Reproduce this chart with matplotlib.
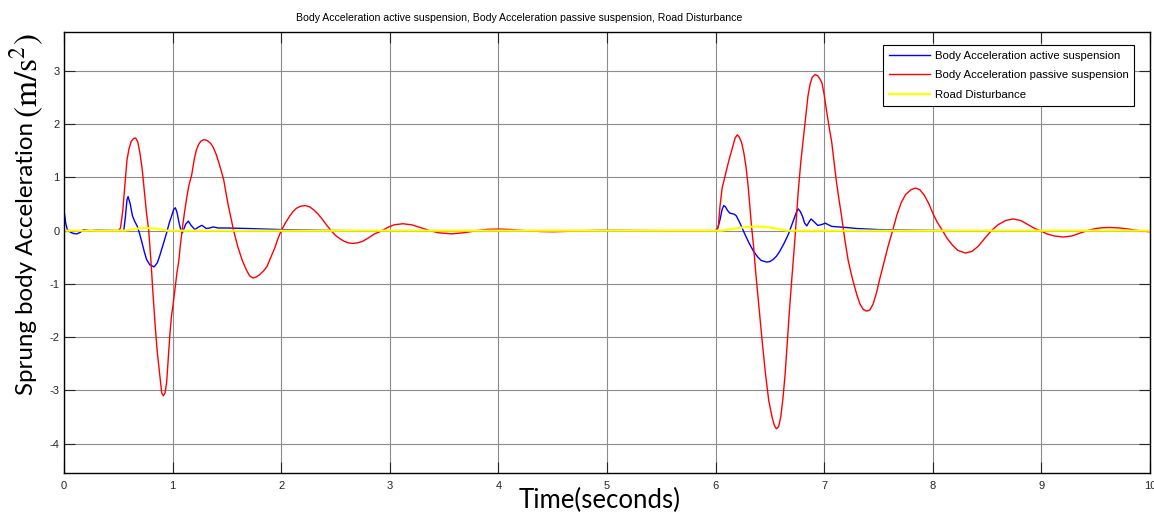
import matplotlib
matplotlib.use("Agg")
import matplotlib.pyplot as plt

# 時間 [s] と車体加速度 [m/s^2]（パッシブサスペンション）
t_passive = [0, 0.50, 0.52, 0.54, 0.56, 0.58, 0.60, 0.62, 0.64, 0.66, 0.68, 0.70,
             0.72, 0.74, 0.76, 0.78, 0.80, 0.82, 0.84, 0.86, 0.88, 0.90, 0.915,
             0.93, 0.945, 0.96, 0.976, 0.99, 1.007, 1.025, 1.04, 1.055, 1.07, 1.09,
             1.11, 1.13, 1.15, 1.176, 1.20, 1.22, 1.24, 1.26, 1.29, 1.32, 1.35,
             1.375, 1.40, 1.43, 1.47, 1.51, 1.56, 1.60, 1.64, 1.68, 1.71, 1.74,
             1.77, 1.80, 1.84, 1.87, 1.90, 1.94, 1.97, 2.00, 2.04, 2.08, 2.11,
             2.14, 2.18, 2.22, 2.26, 2.30, 2.34, 2.38, 2.42, 2.46, 2.50, 2.54,
             2.58, 2.62, 2.66, 2.70, 2.75, 2.80, 2.86, 2.93, 2.98, 3.04, 3.12,
             3.20, 3.28, 3.37, 3.45, 3.57, 3.68, 3.80, 3.90, 4.01, 4.12, 4.25,
             4.38, 4.50, 4.65, 4.80, 4.95, 5.15, 5.50, 6.00,
             6.01, 6.025, 6.04, 6.06, 6.09, 6.12, 6.15, 6.18, 6.20, 6.22, 6.24,
             6.26, 6.28, 6.30, 6.33, 6.35, 6.37, 6.40, 6.43, 6.46, 6.49, 6.52,
             6.54, 6.56, 6.58, 6.60, 6.62, 6.64, 6.66, 6.68, 6.70, 6.73, 6.76,
             6.785, 6.81, 6.83, 6.85, 6.87, 6.89, 6.915, 6.94, 6.96, 6.98, 7.00,
             7.02, 7.045, 7.07, 7.09, 7.11, 7.135, 7.16, 7.19, 7.22, 7.25, 7.27,
             7.30, 7.33, 7.36, 7.39, 7.42, 7.45, 7.48, 7.51, 7.55, 7.59, 7.63,
             7.67, 7.71, 7.75, 7.80, 7.84, 7.88, 7.92, 7.96, 8.00, 8.04, 8.09,
             8.13, 8.18, 8.23, 8.30, 8.36, 8.42, 8.48, 8.54, 8.60, 8.67, 8.74,
             8.81, 8.88, 8.94, 8.99, 9.05, 9.12, 9.20, 9.28, 9.35, 9.42, 9.50,
             9.56, 9.63, 9.72, 9.80, 9.90, 10.0]
acc_passive = [0, 0, 0.05, 0.35, 0.85, 1.33, 1.55, 1.68, 1.73, 1.74, 1.66, 1.45,
               1.15, 0.75, 0.33, 0.0, -0.55, -1.20, -1.80, -2.30, -2.67, -3.05, -3.10,
               -3.05, -2.85, -2.40, -1.92, -1.60, -1.35, -1.05, -0.79, -0.60, -0.30, 0.05,
               0.35, 0.62, 0.85, 1.05, 1.35, 1.52, 1.62, 1.68, 1.71, 1.69, 1.64,
               1.56, 1.44, 1.25, 0.96, 0.50, 0.02, -0.30, -0.55, -0.74, -0.85, -0.89,
               -0.87, -0.83, -0.75, -0.67, -0.52, -0.33, -0.15, 0.0, 0.15, 0.28, 0.36,
               0.42, 0.46, 0.47, 0.45, 0.39, 0.31, 0.21, 0.10, 0.0, -0.09, -0.15,
               -0.20, -0.23, -0.24, -0.23, -0.20, -0.14, -0.06, 0.0, 0.06, 0.11, 0.13,
               0.11, 0.06, 0.0, -0.04, -0.06, -0.04, 0.0, 0.025, 0.03, 0.02, 0.0,
               -0.015, -0.02, -0.012, 0.0, 0.008, 0.005, 0.0, 0.0,
               0.02, 0.08, 0.45, 0.80, 1.05, 1.30, 1.52, 1.74, 1.80, 1.75, 1.65,
               1.46, 1.20, 0.83, 0.10, -0.30, -0.80, -1.45, -2.10, -2.70, -3.20, -3.50,
               -3.65, -3.72, -3.68, -3.50, -3.15, -2.70, -2.10, -1.50, -0.95, -0.17, 0.71,
               1.30, 1.77, 2.15, 2.52, 2.75, 2.88, 2.93, 2.91, 2.85, 2.77, 2.55,
               2.27, 1.95, 1.65, 1.30, 0.96, 0.60, 0.27, -0.17, -0.55, -0.82, -0.98,
               -1.20, -1.38, -1.48, -1.51, -1.49, -1.38, -1.18, -0.92, -0.60, -0.28, 0.0,
               0.30, 0.53, 0.68, 0.77, 0.80, 0.77, 0.67, 0.52, 0.33, 0.16, 0.0,
               -0.14, -0.27, -0.37, -0.42, -0.39, -0.29, -0.14, 0.0, 0.11, 0.19, 0.22,
               0.19, 0.11, 0.04, 0.0, -0.06, -0.10, -0.12, -0.10, -0.05, 0.0, 0.04,
               0.055, 0.06, 0.05, 0.03, 0.0, -0.02]

# 車体加速度（アクティブサスペンション）
t_active = [0, 0.015, 0.03, 0.06, 0.09, 0.12, 0.15, 0.18, 0.21, 0.24, 0.30, 0.55,
            0.565, 0.58, 0.59, 0.61, 0.63, 0.65, 0.675, 0.695, 0.715, 0.74, 0.76,
            0.79, 0.83, 0.86, 0.88, 0.91, 0.945, 0.97, 0.99, 1.01, 1.025, 1.04,
            1.06, 1.075, 1.09, 1.12, 1.145, 1.17, 1.205, 1.24, 1.27, 1.31, 1.34,
            1.375, 1.42, 1.50, 1.70, 2.00, 2.30, 2.60, 6.00,
            6.02, 6.04, 6.06, 6.075, 6.09, 6.11, 6.13, 6.15, 6.17, 6.19, 6.225,
            6.27, 6.31, 6.35, 6.39, 6.42, 6.47, 6.50, 6.53, 6.56, 6.59, 6.63,
            6.67, 6.70, 6.72, 6.745, 6.76, 6.78, 6.80, 6.82, 6.84, 6.865, 6.88,
            6.91, 6.94, 6.97, 7.01, 7.04, 7.07, 7.20, 7.30, 7.50, 7.80, 8.20, 10.0]
acc_active = [0.39, 0.15, 0.02, -0.03, -0.055, -0.06, -0.03, 0.02, 0.01, 0.0, 0.01, 0.0,
              0.25, 0.58, 0.64, 0.50, 0.28, 0.18, 0.08, -0.05, -0.20, -0.40, -0.54,
              -0.64, -0.68, -0.60, -0.48, -0.28, -0.04, 0.15, 0.27, 0.40, 0.43, 0.35,
              0.14, 0.02, -0.04, 0.12, 0.18, 0.10, 0.02, 0.07, 0.10, 0.04, 0.05,
              0.07, 0.05, 0.05, 0.04, 0.02, 0.01, 0.0, 0.0,
              0.05, 0.20, 0.40, 0.47, 0.45, 0.38, 0.33, 0.32, 0.31, 0.28, 0.14,
              -0.07, -0.24, -0.39, -0.50, -0.56, -0.59, -0.58, -0.54, -0.48, -0.39, -0.24,
              -0.07, 0.10, 0.21, 0.35, 0.41, 0.36, 0.27, 0.14, 0.09, 0.18, 0.22,
              0.16, 0.10, 0.11, 0.14, 0.11, 0.08, 0.06, 0.04, 0.02, 0.01, 0.0, 0.0]

# 路面外乱
t_road = [0, 0.55, 0.62, 0.70, 0.76, 0.84, 0.90, 0.95, 6.05, 6.15, 6.25, 6.38,
          6.50, 6.58, 6.66, 10.0]
road = [0, 0, 0.02, 0.045, 0.05, 0.04, 0.02, 0, 0, 0.03, 0.06, 0.08,
        0.06, 0.03, 0, 0]

x_ticks = list(range(0, 11))
y_ticks = list(range(-4, 4))

plt.rcParams['mathtext.fontset'] = 'stix'
plt.rcParams['axes.unicode_minus'] = False
sans = ['Liberation Sans', 'DejaVu Sans']

fig = plt.figure(figsize=(11.54, 5.14), dpi=100)
ax = fig.add_axes([64 / 1154, 1 - 473 / 514, 1086 / 1154, 441 / 514])

ax.plot(t_active, acc_active, color='#0000ff', lw=1.0,
        label='Body Acceleration active suspension')
ax.plot(t_passive, acc_passive, color='#ff0000', lw=1.0,
        label='Body Acceleration passive suspension')
ax.plot(t_road, road, color='#ffff00', lw=1.6, label='Road Disturbance')

ax.set_xlim(0, 10)
ax.set_ylim(-4.55, 3.73)
ax.set_xticks(x_ticks)
ax.set_yticks(y_ticks)
ax.grid(True, color='#8c8c8c', lw=0.8)
ax.set_axisbelow(True)
ax.tick_params(direction='in', length=8, width=0.8, top=True, right=True,
               labelsize=8, colors='#262626')
ax.tick_params(axis='x', pad=6)
ax.tick_params(axis='y', pad=3)
for lab in ax.get_xticklabels() + ax.get_yticklabels():
    lab.set_family(sans)
    lab.set_color('#262626')
for sp in ax.spines.values():
    sp.set_color('black')
    sp.set_linewidth(1.0)

leg = ax.legend(loc='upper right', bbox_to_anchor=(1134 / 1154, 1 - 45 / 514),
                bbox_transform=fig.transFigure, borderaxespad=0, fancybox=False,
                framealpha=1, edgecolor='black', handlelength=3.6,
                handletextpad=0.4, borderpad=0.5, labelspacing=0.85,
                prop={'family': sans, 'size': 8.2})
leg.get_frame().set_linewidth(0.8)

fig.text(519 / 1154, 1 - 18 / 514,
         'Body Acceleration active suspension, Body Acceleration passive suspension, Road Disturbance',
         ha='center', va='center', fontsize=7.6, family=sans)

# 縦軸ラベル（単位部分は数式フォント）
fig.text(27 / 1154, 1 - 395 / 514, 'Sprung body Acceleration',
         rotation=90, ha='center', va='bottom', fontsize=17.4, family='Lato')
fig.text(27 / 1154, 1 - 33 / 514, r'$(\mathrm{m/s^2})$',
         rotation=90, ha='center', va='top', fontsize=24)
fig.text(600 / 1154, 6 / 514, 'Time(seconds)', ha='center', va='baseline',
         fontsize=18.5, family='Lato')

fig.savefig('out.png', dpi=100)
